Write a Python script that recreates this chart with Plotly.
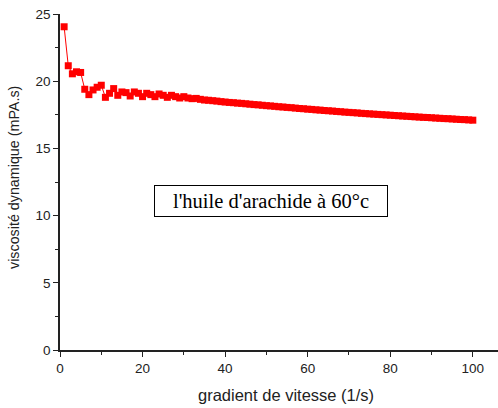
import plotly.graph_objects as go

gradient = list(range(1, 101))
viscosite = [
    24.05, 21.15, 20.55, 20.70, 20.65, 19.40, 19.00, 19.35, 19.55, 19.70,
    18.80, 19.10, 19.45, 18.95, 19.20, 19.15, 18.90, 19.20, 19.10, 18.85,
    19.10, 19.00, 18.85, 19.05, 18.95, 18.80, 18.95, 18.85, 18.75, 18.85,
    18.75, 18.70, 18.72, 18.65, 18.60, 18.58, 18.55, 18.52, 18.48, 18.45,
    18.42, 18.40, 18.37, 18.35, 18.32, 18.29, 18.26, 18.24, 18.21, 18.18,
    18.16, 18.13, 18.10, 18.08, 18.05, 18.03, 18.00, 17.97, 17.95, 17.92,
    17.90, 17.87, 17.85, 17.82, 17.80, 17.78, 17.75, 17.73, 17.70, 17.68,
    17.66, 17.64, 17.61, 17.59, 17.57, 17.55, 17.53, 17.51, 17.49, 17.47,
    17.45, 17.43, 17.41, 17.39, 17.37, 17.35, 17.33, 17.31, 17.30, 17.28,
    17.26, 17.24, 17.22, 17.21, 17.19, 17.17, 17.15, 17.14, 17.12, 17.10,
]
x_ticks = [0, 20, 40, 60, 80, 100]
y_ticks = [0, 5, 10, 15, 20, 25]
x_title = "gradient de vitesse (1/s)"
y_title = "viscosité dynamique (mPA.s)"
label_text = "l'huile d'arachide à 60°c"

fig = go.Figure()
fig.add_trace(go.Scatter(
    x=gradient, y=viscosite, mode="lines+markers",
    line=dict(color="#ff0000", width=1),
    marker=dict(symbol="square", size=7, color="#ff0000"),
    showlegend=False,
))

axis_font = dict(family="Liberation Sans, Arial", size=13.5, color="#222")
fig.update_xaxes(
    range=[0, 106.1], tickvals=x_ticks, ticks="outside", ticklen=5, tickwidth=1.3,
    tickcolor="#222", showline=True, linecolor="#222", linewidth=1.5,
    showgrid=False, zeroline=False, tickfont=axis_font,
    minor=dict(dtick=10, tick0=0, ticks="outside", ticklen=3, tickwidth=1.2, tickcolor="#222", showgrid=False),
)
fig.update_yaxes(
    range=[0, 25], tickvals=y_ticks, ticks="outside", ticklen=5, tickwidth=1.3,
    tickcolor="#222", showline=True, linecolor="#222", linewidth=1.5,
    showgrid=False, zeroline=False, tickfont=axis_font,
    minor=dict(dtick=2.5, tick0=0, ticks="outside", ticklen=3, tickwidth=1.2, tickcolor="#222", showgrid=False),
)
# axis titles
fig.add_annotation(
    x=0.515, y=-0.135, xref="paper", yref="paper", text=x_title, showarrow=False,
    font=dict(family="Liberation Sans, Arial", size=16.5, color="#222"),
    xanchor="center", yanchor="middle",
)
fig.add_annotation(
    x=-0.105, y=0.512, xref="paper", yref="paper", text=y_title, showarrow=False,
    font=dict(family="Liberation Sans, Arial", size=14.3, color="#222"),
    textangle=-90, xanchor="center", yanchor="middle",
)
fig.add_annotation(
    x=51.1, y=11.05, xref="x", yref="y", text=label_text, showarrow=False,
    font=dict(family="Liberation Serif, Times New Roman", size=20.5, color="#000"),
    bordercolor="#000", borderwidth=1, borderpad=3, bgcolor="white",
    width=226, height=24,
)
fig.update_layout(
    width=498, height=408, margin=dict(l=60, r=0, t=14, b=58),
    paper_bgcolor="white", plot_bgcolor="white",
)
fig.write_html("out.html")
